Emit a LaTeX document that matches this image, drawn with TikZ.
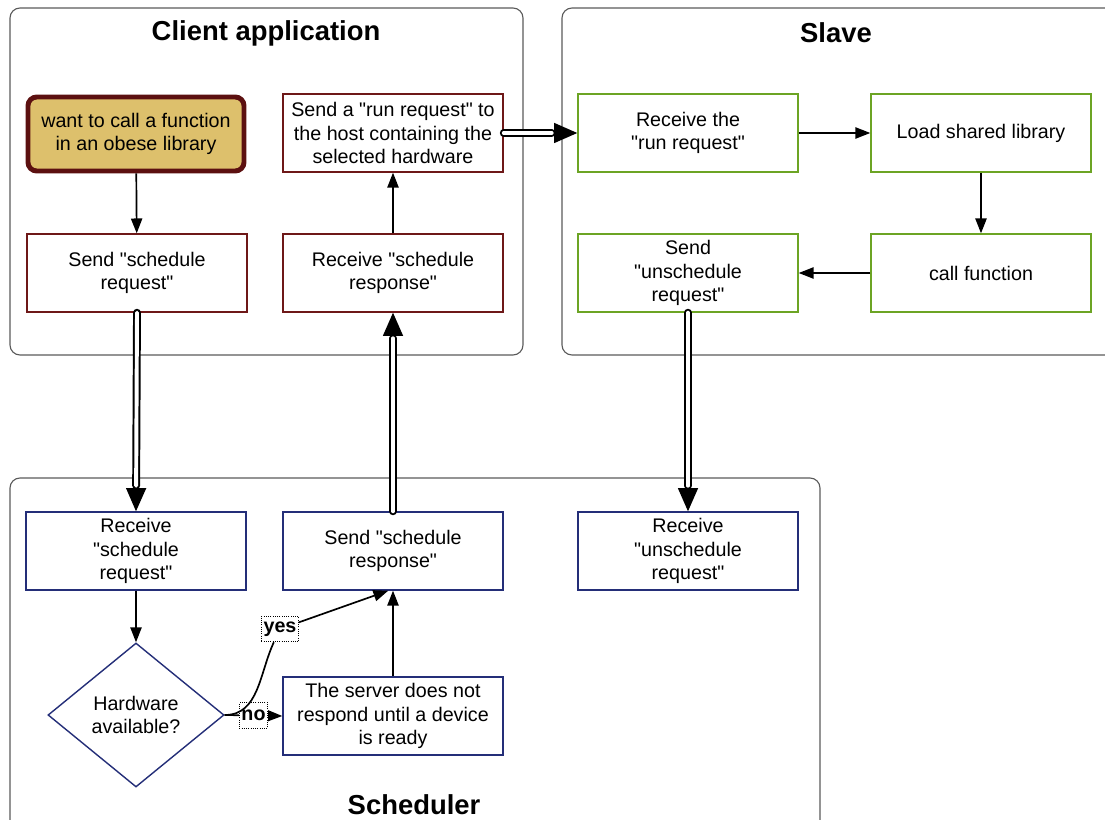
\documentclass[tikz,border=0pt]{standalone}
\usepackage{fontspec}
\setmainfont{Liberation Sans}[Ligatures=TeXOff]
\usetikzlibrary{arrows.meta,shapes.geometric}

\definecolor{clientred}{RGB}{110,24,24}
\definecolor{startfill}{RGB}{221,192,108}
\definecolor{startedge}{RGB}{92,16,16}
\definecolor{slavegreen}{RGB}{108,164,36}
\definecolor{schednavy}{RGB}{36,46,120}
\definecolor{framegray}{RGB}{90,90,90}

\tikzset{
  box/.style={draw, line width=1pt, minimum width=5.5cm, minimum height=1.95cm,
    align=center, inner sep=2pt, font=\fontsize{14}{16.5}\selectfont},
  clientbox/.style={box, draw=clientred},
  slavebox/.style={box, draw=slavegreen},
  schedbox/.style={box, draw=schednavy},
  startbox/.style={box, draw=startedge, fill=startfill, line width=3.5pt,
    rounded corners=0.22cm, minimum width=5.4cm, minimum height=1.85cm},
  frame/.style={draw=framegray, line width=0.8pt, rounded corners=0.25cm},
  title/.style={font=\fontsize{19.5}{23}\selectfont\bfseries},
  lbl/.style={draw, densely dotted, fill=white, line width=0.6pt, inner xsep=1.5pt,
    minimum height=0.64cm, font=\fontsize{14}{16.5}\selectfont\bfseries},
  arr/.style={line width=1.2pt, -{Triangle[length=0.37cm,width=0.28cm]}},
  bigarr/.style={draw, line width=1pt, -{Triangle[length=0.58cm,width=0.5cm]},
    postaction={draw, -, double=white, double distance=2.8pt, line width=1.4pt,
      line cap=round, shorten >=0.64cm}},
}

\begin{document}
\begin{tikzpicture}[x=0.025cm,y=-0.025cm]
\useasboundingbox (0,0) rectangle (1105,820);
\clip (0,0) rectangle (1105,820);
%frames
\draw[frame] (10,8) rectangle (523,355);
\draw[frame] (562,8) rectangle (1125,355);
\draw[frame] (10,478) rectangle (820,840);
\node[title] (tclient) at (266,33) {Client application};
\node[title] (tslave) at (836,33) {Slave};
\node[title] (tsched) at (414,805) {Scheduler};
%client application
\node[startbox] (start) at (136,134) {want to call a function\\in an obese library};
\node[clientbox] (ssq) at (137,273) {Send "schedule\\request"};
\node[clientbox] (rsp) at (393,273) {Receive "schedule\\response"};
\node[clientbox] (srun) at (393,133) {Send a "run request" to\\the host containing the\\selected hardware};
%slave
\node[slavebox] (rrun) at (688,133) {Receive the\\"run request"};
\node[slavebox] (load) at (981,133) {Load shared library};
\node[slavebox] (call) at (981,273) {call function};
\node[slavebox] (sunq) at (688,273) {Send\\"unschedule\\request"};
%scheduler
\node[schedbox] (rsq) at (136,551) {Receive\\"schedule\\request"};
\node[schedbox] (ssp) at (393,551) {Send "schedule\\response"};
\node[schedbox] (runq) at (688,551) {Receive\\"unschedule\\request"};
\node[draw=schednavy, line width=1pt, diamond, aspect=1.22, inner sep=0pt,
  minimum width=4.4cm, minimum height=3.6cm, align=center,
  font=\fontsize{14}{16.5}\selectfont] (hw) at (136,715) {Hardware\\available?};
\node[schedbox] (srv) at (393,716) {The server does not\\respond until a device\\is ready};
\node[lbl] (yes) at (280,629) {yes};
%connectors
\draw[arr] (start) -- (ssq);
\draw[bigarr] (ssq.south) -- (rsq.north);
\draw[bigarr] (ssp.north) -- (rsp.south);
\draw[arr] (rsp) -- (srun);
\draw[bigarr] (srun.east) -- (rrun.west);
\draw[arr] (rrun) -- (load);
\draw[arr] (load) -- (call);
\draw[arr] (call) -- (sunq);
\draw[bigarr] (sunq.south) -- (runq.north);
\draw[arr] (rsq) -- (hw);
\draw[arr] (hw.east) -- node[lbl] (no) {no} (srv.west);
\draw[line width=1.2pt] (hw.east) to[out=0,in=-115] (yes);
\draw[arr] (yes) -- ([xshift=-0.12cm]ssp.south);
\draw[arr] (srv) -- (ssp);
\end{tikzpicture}
\end{document}
